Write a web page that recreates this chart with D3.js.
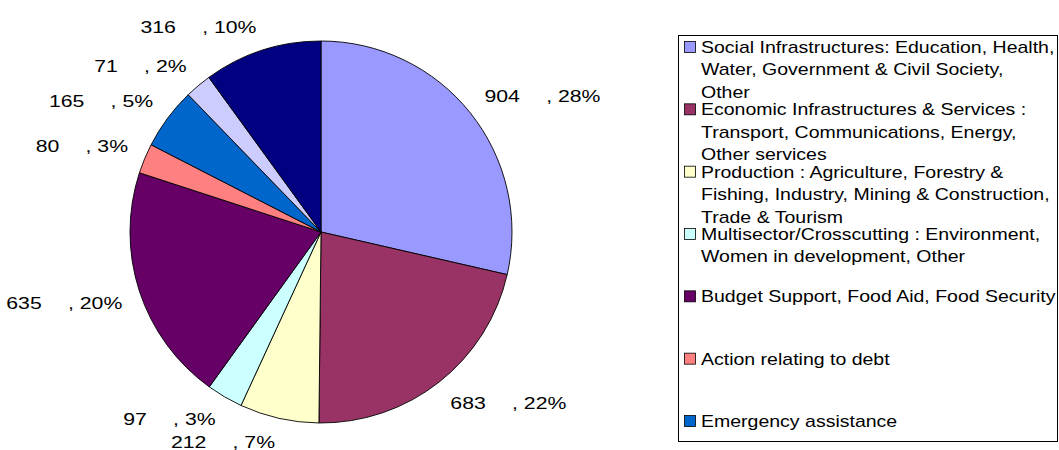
<!DOCTYPE html>
<html>
<head>
<meta charset="utf-8">
<script src="https://cdn.jsdelivr.net/npm/d3@7"></script>
<style>
  body { margin: 0; background: #fff; }
  text { font-family: "Liberation Sans", Arial, sans-serif; fill: #000; }
</style>
</head>
<body>
<div class="chartContainer"></div>
<script>
// slice values, clockwise from 12 o'clock
var values = [904, 683, 212, 97, 635, 80, 165, 71, 316];
// percentages as printed on the labels
var percents = [28, 22, 7, 3, 20, 3, 5, 2, 10];
var colors = ["#9999ff", "#993366", "#ffffcc", "#ccffff", "#660066", "#ff8080", "#0066cc", "#ccccff", "#000080"];
// legend (only the first seven fit in the box)
var legendNames = [
    ["Social Infrastructures: Education, Health,", "Water, Government & Civil Society,", "Other"],
    ["Economic Infrastructures & Services :", "Transport, Communications, Energy,", "Other services"],
    ["Production : Agriculture, Forestry &", "Fishing, Industry, Mining & Construction,", "Trade & Tourism"],
    ["Multisector/Crosscutting : Environment,", "Women in development, Other"],
    ["Budget Support, Food Aid, Food Security"],
    ["Action relating to debt"],
    ["Emergency assistance"]
];

var w = 1059, h = 450;
var cx = 321, cy = 232, radius = 191;
var stretch = 1.25; // text in the picture is drawn wide

var svg = d3.select(".chartContainer").append("svg")
    .attr("width", w)
    .attr("height", h);

var pie = d3.pie().sort(null).value(function(d){ return d; });
var arc = d3.arc().innerRadius(0).outerRadius(radius);
var arcs = pie(values);

var g = svg.append("g").attr("transform", "translate(" + cx + "," + cy + ")");

g.selectAll("path.slice")
    .data(arcs)
    .enter().append("path")
    .attr("class", "slice")
    .attr("d", arc)
    .style("fill", function(d, i){ return colors[i]; })
    .style("stroke", "#000")
    .style("stroke-width", 0.9)
    .style("stroke-linejoin", "round");

// data labels: nearest corner of the label sits just outside the rim
var labelR = radius + 18;
var labels = g.selectAll("g.lbl")
    .data(arcs)
    .enter().append("g")
    .attr("class", "lbl")
    .attr("transform", function(d){
        var a = (d.startAngle + d.endAngle) / 2;
        var x = labelR * Math.sin(a), y = -labelR * Math.cos(a);
        if (Math.cos(a) < 0) y += 12.5; // lower half: top of text at the point
        return "translate(" + x + "," + y + ") scale(" + stretch + ",1)";
    });

labels.append("text")
    .style("font-size", "17px")
    .attr("text-anchor", function(d){
        var a = (d.startAngle + d.endAngle) / 2;
        return Math.sin(a) >= 0 ? "start" : "end";
    })
    .each(function(d, i){
        var t = d3.select(this);
        t.append("tspan").text(values[i]);
        t.append("tspan").attr("dx", 21).text(", " + percents[i] + "%");
    });

// legend
var legX = 678.5, legY = 35.5, legW = 379, legH = 406;
var lg = svg.append("g").attr("class", "legend");

lg.append("rect")
    .attr("x", legX)
    .attr("y", legY)
    .attr("width", legW)
    .attr("height", legH)
    .style("fill", "#fff")
    .style("stroke", "#000")
    .style("stroke-width", 1);

var rowY = d3.scaleLinear().domain([0, legendNames.length - 1]).range([53, 427]);
var lineH = 22.5;

var items = lg.selectAll("g.item")
    .data(legendNames)
    .enter().append("g")
    .attr("class", "item");

items.append("rect")
    .attr("x", 684.5)
    .attr("y", function(d, i){ return rowY(i) - 11.5; })
    .attr("width", 11)
    .attr("height", 11)
    .style("fill", function(d, i){ return colors[i]; })
    .style("stroke", "#000")
    .style("stroke-width", 0.8);

items.append("text")
    .attr("transform", function(d, i){
        return "translate(701," + rowY(i) + ") scale(" + (stretch - 0.03) + ",1)";
    })
    .style("font-size", "16px")
    .selectAll("tspan")
    .data(function(d){ return d; })
    .enter().append("tspan")
    .attr("x", 0)
    .attr("y", function(d, j){ return j * lineH; })
    .text(function(d){ return d; });
</script>
</body>
</html>
